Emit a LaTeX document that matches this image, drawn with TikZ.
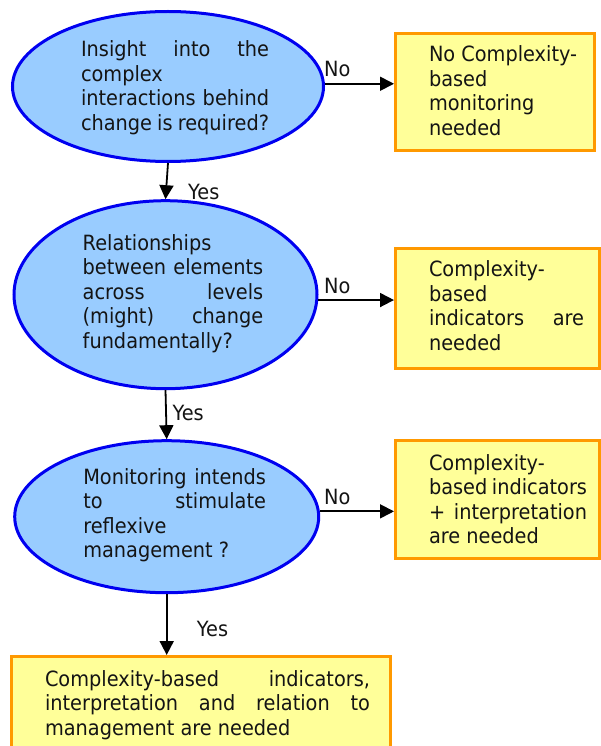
\documentclass[tikz,border=0pt]{standalone}
\usepackage{fontspec}
\setmainfont{DejaVu Sans}[FakeStretch=0.92]
\usetikzlibrary{shapes.geometric,arrows.meta,calc}
\definecolor{ellfill}{HTML}{99CCFF}
\definecolor{ellline}{HTML}{0000F0}
\definecolor{boxfill}{HTML}{FFFF99}
\definecolor{boxline}{HTML}{FF9900}
\newcommand\jl[1]{\makebox[\linewidth][s]{#1}}
\newcommand\txtblock[2]{\parbox[t]{#1}{\baselineskip=24.5pt #2}}
\tikzset{
  question/.style={ellipse, draw=ellline, fill=ellfill, line width=3pt, inner sep=0pt},
  answer/.style={rectangle, draw=boxline, fill=boxfill, line width=3pt, inner sep=0pt},
  txt/.style={anchor=base west, inner sep=0pt, outer sep=0pt, font=\fontsize{21}{24.5}\selectfont, text=black!92},
  lbl/.style={anchor=base west, inner sep=0pt, font=\fontsize{21}{24.5}\selectfont, text=black!92},
  conn/.style={line width=1.8pt, -{Triangle[length=14pt,width=14pt]}}
}
\begin{document}
\begin{tikzpicture}[x=1pt,y=-1pt]
\useasboundingbox (0,0) rectangle (601,746);
\clip (0,0) rectangle (601,746);
% questions
\node[question, minimum width=311pt, minimum height=150pt] (q1) at (168,86.5) {};
\node[question, minimum width=303pt, minimum height=188pt] (q2) at (165.5,294.7) {};
\node[question, minimum width=304pt, minimum height=152pt] (q3) at (166.7,516.7) {};
% answers
\node[answer, minimum width=199pt, minimum height=117.6pt] (a1) at (495,92) {};
\node[answer, minimum width=203.5pt, minimum height=119.7pt] (a2) at (497.25,308.65) {};
\node[answer, minimum width=203.5pt, minimum height=117.7pt] (a3) at (497.25,499.65) {};
\node[answer, minimum width=378.7pt, minimum height=92.5pt] (a4) at (200.85,702.75) {};
% texts
\node[txt] (t1) at (81,57) {\txtblock{188pt}{\jl{Insight into the}\\complex\\\jl{interactions behind}\\change is required?}};
\node[txt] (t2) at (82.7,250) {\txtblock{180.5pt}{Relationships\\\jl{between elements}\\\jl{across levels}\\\jl{(might) change}\\fundamentally?}};
\node[txt] (t3) at (83.3,484.3) {\txtblock{182.7pt}{\jl{Monitoring intends}\\\jl{to stimulate}\\reflexive\\management ?}};
\node[txt] (u1) at (429,61.7) {\txtblock{160pt}{No Complexity-\\based\\monitoring\\needed}};
\node[txt] (u2) at (429,276.7) {\txtblock{155pt}{Complexity-\\based\\\jl{indicators are}\\needed}};
\node[txt] (u3) at (429,470) {\txtblock{158pt}{Complexity-\\\jl{based indicators}\\\jl{+ interpretation}\\are needed}};
\node[txt] (u4) at (45,686) {\txtblock{325pt}{\jl{Complexity-based indicators,}\\\jl{interpretation and relation to}\\management are needed}};
% connectors
\draw[conn] (q1.1.2) -- (q1.1.2 -| a1.west);
\draw[conn] (q2.-2.7) -- (q2.-2.7 -| a2.west);
\draw[conn] (q3.2.3) -- (q3.2.3 -| a3.west);
\draw[conn] (q1.south) -- (q2.north);
\draw[conn] (q2.south) -- (q3.north);
\draw[conn] (q3.south) -- (q3.south |- a4.north);
% labels
\node[lbl] (n1) at (324,76.7) {No};
\node[lbl] (n2) at (324,293) {No};
\node[lbl] (n3) at (324,504) {No};
\node[lbl] (y1) at (188,200) {Yes};
\node[lbl] (y2) at (172.3,420) {Yes};
\node[lbl] (y3) at (196.7,636.7) {Yes};
\end{tikzpicture}
\end{document}
